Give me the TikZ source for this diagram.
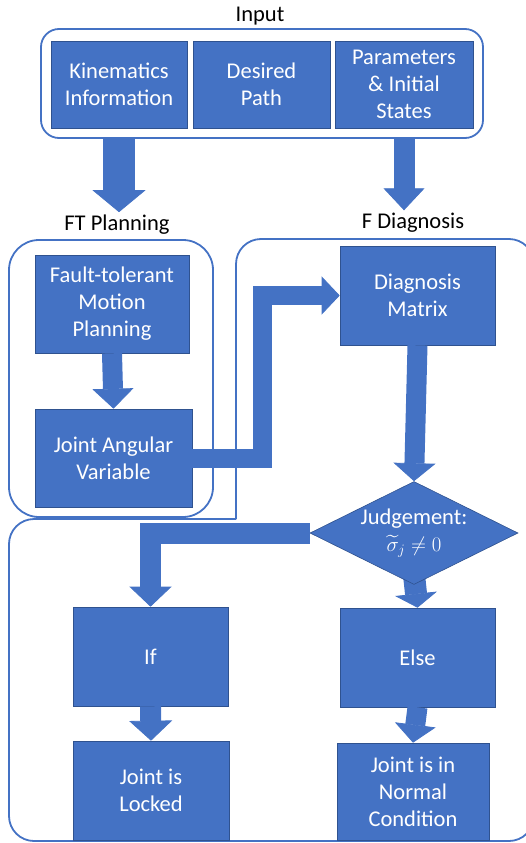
\documentclass[tikz,border=0pt]{standalone}
\usepackage{amsmath,amssymb}
\usepackage{fontspec}
\setmainfont{Carlito}
\usetikzlibrary{shapes.geometric}
\usetikzlibrary{positioning}
\usetikzlibrary{arrows.meta}
\usetikzlibrary{backgrounds}
\definecolor{officeblue}{HTML}{4472C4}
\definecolor{officeedge}{HTML}{2F528F}
\tikzset{
  blk/.style={draw=officeedge, line width=0.6pt, fill=officeblue, text=white, align=center, inner sep=2pt, font=\fontsize{22.5}{27}\selectfont},
  frm/.style={draw=officeblue, line width=1.8pt, rounded corners=#1},
  frm/.default=25pt,
  lbl/.style={font=\fontsize{22.5}{27}\selectfont, inner sep=2pt},
  fat/.style n args={3}{draw=officeblue, line width=#1, -{Triangle[width=#2,length=#3,line width=0.8pt]}},
}

\begin{document}
\begin{tikzpicture}[x=1pt,y=-1pt]
\useasboundingbox (0,0) rectangle (526,843);
% frames
\node[frm=18pt, minimum width=442pt, minimum height=109pt] (inbox) at (262,83.5) {};
\draw[frm=30pt] (9,240) rectangle (213,517);
\draw[frm=25pt] (236,519) -- (236,239) -- (534,239) -- (534,841) -- (9,841) -- (9,519) -- (236,519);
% titles
\node[lbl, anchor=base] (inp) at (260,22) {Input};
\node[lbl, anchor=base] (ftp) at (117,230) {FT Planning};
\node[lbl, anchor=base] (fdg) at (413,228) {F Diagnosis};
% input boxes
\node[blk, minimum width=136pt, minimum height=87pt] (kin) at (119,84.5) {Kinematics\\Information};
\node[blk, minimum width=137pt, minimum height=87pt] (des) at (261.5,84.5) {Desired\\Path};
\node[blk, minimum width=138pt, minimum height=87pt] (par) at (404,84.5) {Parameters\\\& Initial\\States};
% planning
\node[blk, minimum width=154pt, minimum height=98pt] (ftm) at (112,304) {Fault-tolerant\\Motion\\Planning};
\node[blk, minimum width=157pt, minimum height=98pt] (jav) at (113.5,458) {Joint Angular\\Variable};
% diagnosis
\node[blk, minimum width=155pt, minimum height=99pt] (dm) at (417.5,295.5) {Diagnosis\\Matrix};
\node[blk, diamond, aspect=2, inner sep=0pt, minimum width=208pt, minimum height=103pt] (jud) at (414,533) {Judgement:\\$\widetilde{\sigma}_j\neq 0$};
\node[blk, minimum width=155pt, minimum height=99pt] (ifb) at (150.5,656.5) {If};
\node[blk, minimum width=155pt, minimum height=99pt] (els) at (417.5,657.5) {Else};
\node[blk, minimum width=156pt, minimum height=99pt] (lock) at (151,790.5) {Joint is\\Locked};
\node[blk, minimum width=152pt, minimum height=97pt] (norm) at (413,791.5) {Joint is in\\Normal\\Condition};
% block arrows
\draw[fat={32pt}{53pt}{22pt}] (inbox.south -| kin) -- (kin |- ftp.north);
\draw[fat={21pt}{41pt}{22pt}] (inbox.south -| par) -- (par |- fdg.north);
\draw[fat={20pt}{41pt}{20pt}] (ftm.south) -- (jav.north);
\draw[fat={19pt}{38pt}{18pt}] (jav.east) -- ++(70,0) |- (dm.west);
\draw[fat={20pt}{42pt}{18pt}] (dm.south) -- (jud.north);
\draw[fat={21pt}{42pt}{20pt}] (jud.west) -| (ifb.north);
\begin{scope}[on background layer]
\draw[fat={22pt}{42pt}{14pt}] ([yshift=10pt]jud.south) -- (els.north);
\end{scope}
\draw[fat={21pt}{43pt}{20pt}] (ifb.south) -- (lock.north);
\draw[fat={20pt}{41pt}{18pt}] (els.south) -- (norm.north);
\end{tikzpicture}
\end{document}
